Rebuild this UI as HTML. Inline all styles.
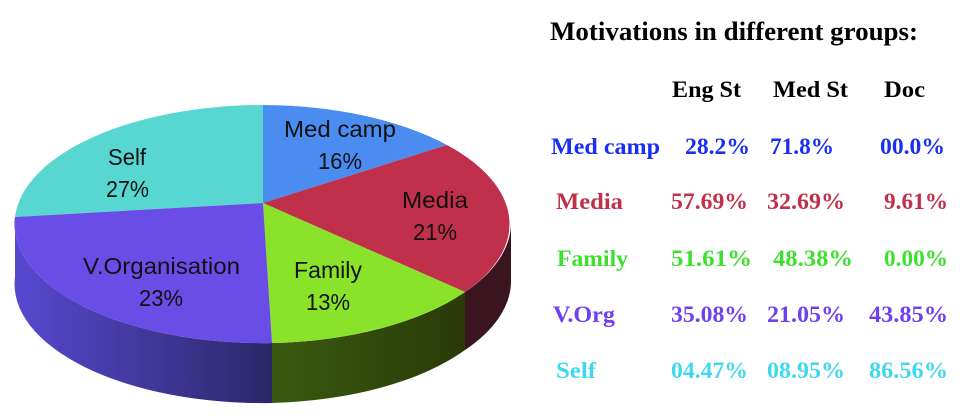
<!DOCTYPE html>
<html><head><style>
body{margin:0;background:#fff;width:963px;height:417px;overflow:hidden;position:relative}
svg{position:absolute;left:0;top:0}
</style></head><body>
<svg width="963" height="417" viewBox="0 0 963 417">
<defs>
<linearGradient id="gv" x1="0" x2="1"><stop offset="0" stop-color="#5848d0"/><stop offset="1" stop-color="#2c2868"/></linearGradient>
<linearGradient id="gf" x1="0" x2="1"><stop offset="0" stop-color="#3a5a10"/><stop offset="1" stop-color="#2a3a08"/></linearGradient>
</defs>
<path d="M15,217 A248,119 0 0 0 272,343 L272,403 A248,119 0 0 1 15,277 Z" fill="url(#gv)"/>
<path d="M272,343 A248,119 0 0 0 465,292 L465,350 A248,119 0 0 1 272,403 Z" fill="url(#gf)"/>
<path d="M465,292 A248,119 0 0 0 511,224 L511,282 A248,119 0 0 1 465,350 Z" fill="#3a1520"/>
<path d="M263,203 L263,105 A248,119 0 0 0 15,217 Z" fill="#58d6d2"/>
<path d="M263,203 L263,105 A248,119 0 0 1 447,145 Z" fill="#4a8cf0"/>
<path d="M263,203 L447,145 A248,119 0 0 1 465,292 Z" fill="#c0304a"/>
<path d="M263,203 L465,292 A248,119 0 0 1 272,343 Z" fill="#8ae22a"/>
<path d="M263,203 L272,343 A248,119 0 0 1 15,217 Z" fill="#6a4de6"/>
<g font-family="Liberation Sans, DejaVu Sans, sans-serif" font-size="23" fill="#111">
<text x="108" y="165" textLength="38" lengthAdjust="spacingAndGlyphs">Self</text><text x="106" y="197" textLength="43" lengthAdjust="spacingAndGlyphs">27%</text>
<text x="284" y="137" textLength="112" lengthAdjust="spacingAndGlyphs">Med camp</text><text x="318" y="169" textLength="44" lengthAdjust="spacingAndGlyphs">16%</text>
<text x="402" y="208" textLength="66" lengthAdjust="spacingAndGlyphs">Media</text><text x="413" y="240" textLength="44" lengthAdjust="spacingAndGlyphs">21%</text>
<text x="294" y="278" textLength="68" lengthAdjust="spacingAndGlyphs">Family</text><text x="306" y="310" textLength="44" lengthAdjust="spacingAndGlyphs">13%</text>
<text x="83" y="274" textLength="157" lengthAdjust="spacingAndGlyphs">V.Organisation</text><text x="139" y="306" textLength="44" lengthAdjust="spacingAndGlyphs">23%</text>
</g>
<g font-family="Liberation Serif, serif" font-weight="bold">
<text x="550" y="40" font-size="26" fill="#000" textLength="368" lengthAdjust="spacingAndGlyphs">Motivations in different groups:</text>
<g font-size="23" fill="#000"><text x="672" y="97" textLength="69" lengthAdjust="spacingAndGlyphs">Eng St</text><text x="773" y="97" textLength="75" lengthAdjust="spacingAndGlyphs">Med St</text><text x="884" y="97" textLength="41" lengthAdjust="spacingAndGlyphs">Doc</text></g>
<g font-size="23" fill="#1a30f0"><text x="551" y="154" textLength="109" lengthAdjust="spacingAndGlyphs">Med camp</text><text x="685" y="154" textLength="65" lengthAdjust="spacingAndGlyphs">28.2%</text><text x="770" y="154" textLength="64" lengthAdjust="spacingAndGlyphs">71.8%</text><text x="880" y="154" textLength="65" lengthAdjust="spacingAndGlyphs">00.0%</text></g>
<g font-size="23" fill="#c0304a"><text x="556" y="209" textLength="67" lengthAdjust="spacingAndGlyphs">Media</text><text x="671" y="209" textLength="77" lengthAdjust="spacingAndGlyphs">57.69%</text><text x="767" y="209" textLength="78" lengthAdjust="spacingAndGlyphs">32.69%</text><text x="884" y="209" textLength="64" lengthAdjust="spacingAndGlyphs">9.61%</text></g>
<g font-size="23" fill="#3ee030"><text x="557" y="266" textLength="71" lengthAdjust="spacingAndGlyphs">Family</text><text x="671" y="266" textLength="81" lengthAdjust="spacingAndGlyphs">51.61%</text><text x="773" y="266" textLength="80" lengthAdjust="spacingAndGlyphs">48.38%</text><text x="884" y="266" textLength="64" lengthAdjust="spacingAndGlyphs">0.00%</text></g>
<g font-size="23" fill="#7040f0"><text x="553" y="322" textLength="62" lengthAdjust="spacingAndGlyphs">V.Org</text><text x="671" y="322" textLength="77" lengthAdjust="spacingAndGlyphs">35.08%</text><text x="767" y="322" textLength="78" lengthAdjust="spacingAndGlyphs">21.05%</text><text x="869" y="322" textLength="79" lengthAdjust="spacingAndGlyphs">43.85%</text></g>
<g font-size="23" fill="#40d8f0"><text x="556" y="378" textLength="40" lengthAdjust="spacingAndGlyphs">Self</text><text x="671" y="378" textLength="77" lengthAdjust="spacingAndGlyphs">04.47%</text><text x="767" y="378" textLength="78" lengthAdjust="spacingAndGlyphs">08.95%</text><text x="869" y="378" textLength="79" lengthAdjust="spacingAndGlyphs">86.56%</text></g>
</g>
</svg>
</body></html>
